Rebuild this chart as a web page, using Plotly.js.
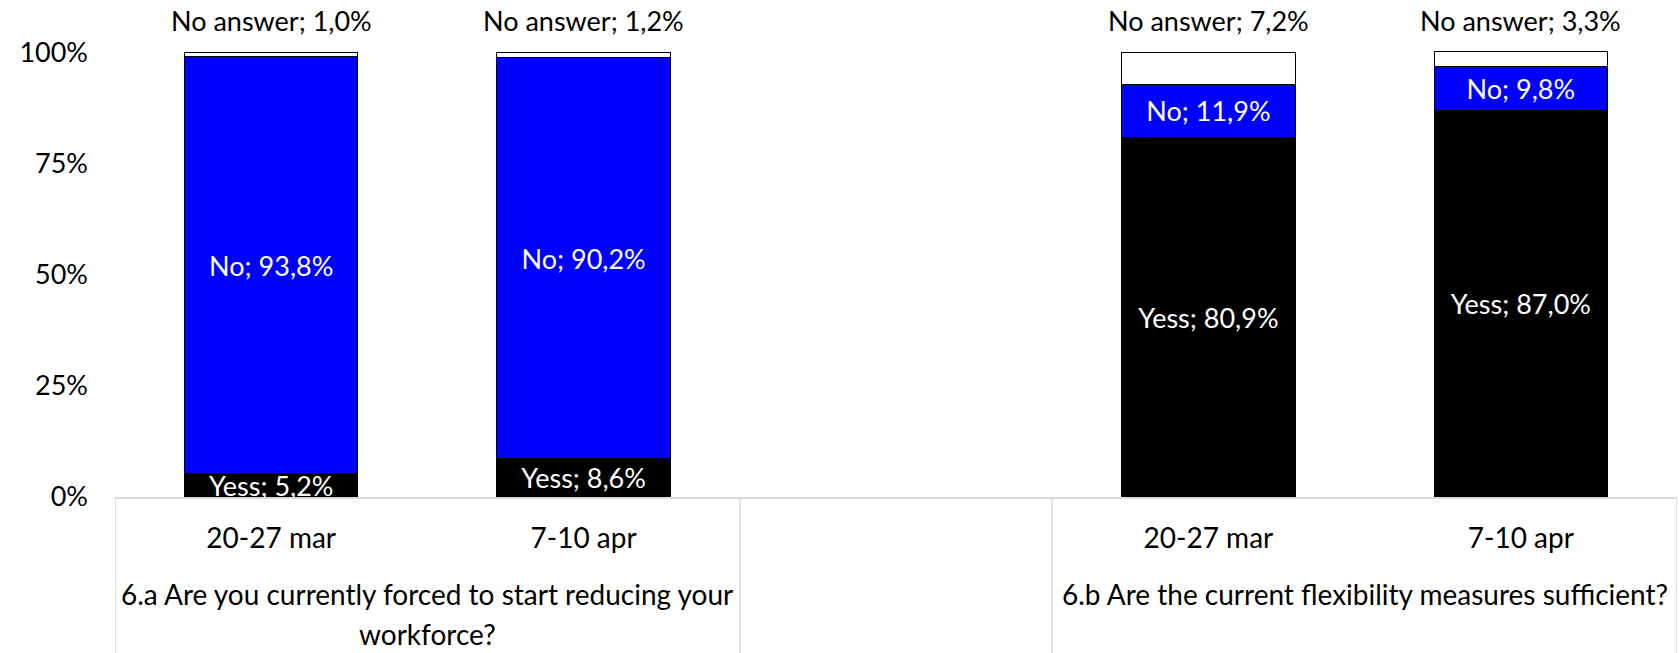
<!DOCTYPE html>
<html>
<head>
<meta charset="utf-8">
<script src="https://cdn.plot.ly/plotly-3.0.1.min.js"></script>
<style>html,body{margin:0;padding:0;background:#fff;}#chart{width:1679px;height:653px;}</style>
</head>
<body>
<div id="chart"></div>
<script>
// ---- data ----
const periods = ["20-27 mar", "7-10 apr"];
const questions = [
  "6.a Are you currently forced to start reducing your<br>workforce?",
  "6.b Are the current flexibility measures sufficient?"
];
// order: 6.a 20-27 mar, 6.a 7-10 apr, 6.b 20-27 mar, 6.b 7-10 apr
const yess = [5.2, 8.6, 80.9, 87.0];
const no = [93.8, 90.2, 11.9, 9.8];
const noAnswer = [1.0, 1.2, 7.2, 3.3];
const yTicks = [0, 25, 50, 75, 100];

// ---- layout helpers ----
// slots: question 0 -> 0,1 ; empty spacer slot 2 ; question 1 -> 3,4
const slotOf = (qi, pi) => qi * 3 + pi;
const xs = [], tickText = [];
questions.forEach((q, qi) => periods.forEach((p, pi) => { xs.push(slotOf(qi, pi)); tickText.push(p); }));

const fmt = v => v.toFixed(1).replace('.', ',') + '%';
const FONT = 'Lato, "Open Sans", sans-serif';
const FS = 27;

const traces = [
  {
    type: 'bar', x: xs, y: yess, name: 'Yess',
    marker: {color: '#000000', line: {color: '#000000', width: 1}},
    text: yess.map(v => 'Yess; ' + fmt(v)), textposition: 'inside', insidetextanchor: 'middle',
    textangle: 0, constraintext: 'none',
    textfont: {color: '#ffffff', size: FS, family: FONT}, hoverinfo: 'skip'
  },
  {
    type: 'bar', x: xs, y: no, name: 'No',
    marker: {color: '#0000ff', line: {color: '#000000', width: 1}},
    text: no.map(v => 'No; ' + fmt(v)), textposition: 'inside', insidetextanchor: 'middle',
    textangle: 0, constraintext: 'none',
    textfont: {color: '#ffffff', size: FS, family: FONT}, hoverinfo: 'skip'
  },
  {
    type: 'bar', x: xs, y: noAnswer, name: 'No answer',
    marker: {color: '#ffffff', line: {color: '#000000', width: 1}},
    hoverinfo: 'skip'
  }
];

const YMAX = 100.3;
const annotations = [];
xs.forEach((x, i) => {
  annotations.push({
    x: x, y: yess[i] + no[i] + noAnswer[i], xref: 'x', yref: 'y',
    text: 'No answer; ' + fmt(noAnswer[i]), showarrow: false,
    yanchor: 'bottom', yshift: 13,
    font: {color: '#000000', size: FS, family: FONT}
  });
});
const plotH = 653 - 51 - 156;
questions.forEach((q, qi) => {
  const lines = q.split('<br>');
  lines.forEach((ln, li) => {
    annotations.push({
      x: slotOf(qi, 0) + 0.5, xref: 'x', yref: 'paper',
      y: -(97 + li * 40) / plotH, yanchor: 'middle',
      text: ln, showarrow: false,
      font: {color: '#000000', size: 28, family: FONT}
    });
  });
});

const shapes = [-0.5, 1.5, 2.5, 4.5].map(b => ({
  type: 'line', xref: 'x', yref: 'paper', x0: b, x1: b, y0: 0, y1: -160 / plotH,
  line: {color: '#d9d9d9', width: 1.5}
}));

const layout = {
  width: 1679, height: 653,
  margin: {l: 115, r: 2, t: 51, b: 156},
  paper_bgcolor: '#ffffff', plot_bgcolor: '#ffffff',
  barmode: 'stack', bargap: 0.445,
  showlegend: false,
  font: {family: FONT, size: FS, color: '#000000'},
  xaxis: {
    type: 'linear', range: [-0.5, 4.5], tickvals: xs, ticktext: tickText,
    showgrid: false, zeroline: false, showline: true, linecolor: '#d9d9d9', linewidth: 1.5,
    ticks: '', ticklabelstandoff: 16, tickfont: {size: 28, family: FONT, color: '#000000'},
    fixedrange: true
  },
  yaxis: {
    range: [0, YMAX], tickvals: yTicks, ticktext: yTicks.map(v => v + '%'),
    showgrid: false, zeroline: false, showline: false,
    ticks: '', ticklabelstandoff: 26, tickfont: {size: 27, family: FONT, color: '#000000'},
    fixedrange: true
  },
  annotations: annotations,
  shapes: shapes
};

Plotly.newPlot('chart', traces, layout, {displayModeBar: false, staticPlot: true});
</script>
</body>
</html>
